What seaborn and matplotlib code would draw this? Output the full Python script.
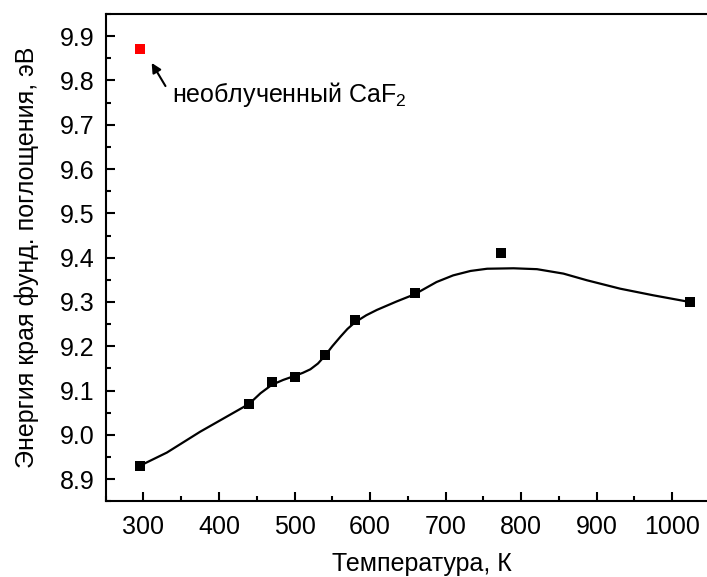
import pandas as pd
import seaborn as sns
import matplotlib.pyplot as plt
from matplotlib.ticker import MultipleLocator

# measured points (black squares)
temp_k = [295, 440, 470, 500, 540, 580, 660, 773, 1023]
energy_ev = [8.93, 9.07, 9.12, 9.13, 9.18, 9.26, 9.32, 9.41, 9.30]

# non-irradiated CaF2 (red square)
ref_temp = [295]
ref_energy = [9.87]

# smooth guide curve
curve_temp = [295, 331, 375, 440, 455, 470, 485, 500, 511, 521, 531, 540, 550, 561, 570, 580,
              595, 609, 635, 660, 666, 688, 710, 733, 755, 790, 821, 856, 887, 931, 975, 1023]
curve_energy = [8.93, 8.96, 9.007, 9.07, 9.094, 9.113, 9.124, 9.133, 9.14, 9.148, 9.161, 9.178,
                9.2, 9.222, 9.239, 9.254, 9.27, 9.282, 9.301, 9.318,
                9.324, 9.345, 9.36, 9.37, 9.375, 9.376, 9.374, 9.364, 9.349, 9.33, 9.315, 9.30]

sns.set_theme(style='ticks')
plt.rcParams['font.family'] = ['Liberation Sans', 'DejaVu Sans']
plt.rcParams['mathtext.fontset'] = 'custom'
plt.rcParams['mathtext.rm'] = 'Liberation Sans'
plt.rcParams['text.color'] = 'black'
plt.rcParams['axes.labelcolor'] = 'black'
plt.rcParams['xtick.color'] = 'black'
plt.rcParams['ytick.color'] = 'black'

fig = plt.figure(figsize=(7.07, 5.77), dpi=100)
ax = fig.add_axes([0.1495, 0.1312, 0.8547, 0.8445])

pts = pd.DataFrame({'T': temp_k, 'E': energy_ev})
ref = pd.DataFrame({'T': ref_temp, 'E': ref_energy})
curve = pd.DataFrame({'T': curve_temp, 'E': curve_energy})

sns.lineplot(data=curve, x='T', y='E', color='black', linewidth=1.6, sort=False, ax=ax, zorder=2)
sns.scatterplot(data=pts, x='T', y='E', marker='s', s=52, color='black', edgecolor='black',
                linewidth=0, ax=ax, zorder=3)
sns.scatterplot(data=ref, x='T', y='E', marker='s', s=52, color='#ff0000', edgecolor='#ff0000',
                linewidth=0, ax=ax, zorder=3)

ax.annotate('', xy=(309, 9.845), xytext=(331, 9.782),
            arrowprops=dict(arrowstyle='-|>', color='black', lw=1.5, mutation_scale=14))
ax.text(338, 9.752, 'необлученный CaF$_2$', fontsize=18, ha='left', va='baseline')

ax.set_xlim(250, 1050)
ax.set_ylim(8.85, 9.95)
ax.xaxis.set_major_locator(MultipleLocator(100))
ax.xaxis.set_minor_locator(MultipleLocator(50))
ax.yaxis.set_major_locator(MultipleLocator(0.1))
ax.yaxis.set_minor_locator(MultipleLocator(0.05))
ax.yaxis.set_major_formatter(plt.FormatStrFormatter('%.1f'))

ax.tick_params(which='both', direction='in', width=1.5, color='black', labelsize=18,
               labelcolor='black', top=False, right=False)
ax.tick_params(which='major', length=6.5)
ax.tick_params(which='minor', length=3.5)
ax.tick_params(axis='x', which='major', pad=10)
ax.tick_params(axis='y', which='major', pad=8)

for sp in ax.spines.values():
    sp.set_linewidth(1.5)
    sp.set_color('black')

ax.set_xlabel('Температура, К', fontsize=18)
ax.set_ylabel('Энергия края фунд. поглощения, эВ', fontsize=18)
ax.xaxis.set_label_coords(0.523, -0.104)
ax.yaxis.set_label_coords(-0.11, 0.5)

fig.savefig('out.png', dpi=100)
